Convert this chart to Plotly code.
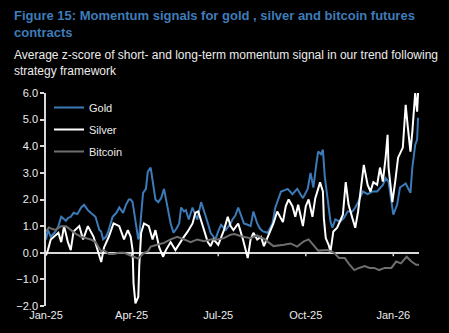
import pandas as pd
import plotly.graph_objects as go

START = pd.Timestamp("2025-01-01")

# Days since 1 Jan 2025, and z-score values
gold_days = [0, 2, 5, 10, 13, 16, 21, 23, 26, 29, 33, 37, 40, 44, 47, 52, 56, 58, 60, 63, 65, 70, 74, 77, 81, 84, 87, 89, 91, 94, 97, 98, 100, 102, 105, 107, 110, 112, 115, 118, 121, 124, 128, 131, 134, 137, 140, 142, 145, 147, 150, 154, 157, 159, 163, 165, 168, 171, 173, 176, 178, 181, 184, 189, 194, 196, 199, 202, 205, 208, 212, 215, 218, 222, 225, 228, 233, 238, 241, 244, 247, 251, 254, 259, 264, 270, 275, 278, 281, 284, 286, 289, 291, 293, 296, 299, 301, 304, 309, 313, 317, 322, 325, 328, 333, 338, 343, 348, 354, 357, 360, 364, 365, 369, 372, 378, 383, 385, 388, 390, 391]
gold_vals = [0.5, 0.86, 0.6, 0.8, 1.0, 1.35, 1.2, 1.3, 1.35, 1.5, 1.45, 1.7, 1.8, 1.6, 1.5, 1.35, 0.86, 0.8, 0.5, 0.6, 0.75, 1.35, 1.5, 1.7, 1.5, 1.8, 2.0, 2.0, 1.9, 1.1, 0.5, 0.6, 1.5, 2.25, 2.4, 3.05, 3.2, 2.75, 2.0, 1.9, 2.05, 2.4, 1.6, 1.1, 0.75, 0.9, 1.1, 1.7, 1.55, 1.6, 1.25, 1.7, 1.4, 1.25, 1.9, 1.7, 1.35, 1.0, 0.75, 0.6, 0.5, 0.8, 1.05, 0.86, 1.1, 1.25, 1.4, 1.7, 1.4, 1.1, 1.05, 1.0, 1.55, 1.1, 0.9, 0.8, 0.75, 1.1, 1.7, 2.0, 2.3, 2.35, 2.4, 2.2, 2.4, 2.05, 2.4, 3.0, 2.45, 3.3, 3.8, 3.7, 3.87, 2.85, 2.07, 1.17, 0.94, 1.25, 1.17, 1.3, 1.55, 1.55, 1.7, 1.9, 2.3, 2.2, 2.3, 2.3, 2.55, 2.8, 2.67, 1.8, 1.43, 1.8, 2.45, 2.6, 2.25, 3.2, 4.05, 4.25, 5.07]

silver_days = [0, 2, 5, 13, 16, 19, 23, 26, 29, 35, 39, 44, 50, 58, 61, 66, 71, 77, 82, 86, 89, 91, 92, 94, 97, 98, 100, 103, 108, 112, 115, 119, 123, 126, 131, 136, 144, 149, 154, 157, 160, 165, 170, 173, 176, 181, 186, 187, 191, 194, 197, 202, 207, 210, 212, 215, 218, 222, 226, 229, 233, 236, 239, 243, 249, 252, 255, 259, 262, 265, 270, 273, 276, 280, 283, 286, 288, 291, 292, 294, 297, 299, 302, 306, 312, 315, 318, 322, 325, 328, 333, 334, 338, 341, 344, 348, 351, 354, 357, 359, 360, 364, 367, 370, 375, 378, 380, 383, 385, 388, 390, 391]
silver_vals = [-0.1, 0.1, 0.5, 0.75, 0.4, 1.0, 0.4, 0.1, 0.8, 1.0, 0.5, 1.0, 0.6, -0.35, 0.2, 0.6, 1.1, 1.0, 0.5, 0.85, 0.6, 0.1, -1.15, -1.9, -1.65, -0.5, 0.75, 1.1, 1.0, 0.5, 0.85, 0.2, -0.15, 0.1, 0.4, 0.1, 0.55, 0.8, 1.1, 1.5, 1.55, 1.0, 0.4, 0.25, 0.5, 0.3, 0.75, 0.85, 1.35, 1.0, 0.85, 1.1, 0.5, 0.1, -0.2, 0.5, 0.75, 0.5, 0.6, 0.25, 0.6, 0.85, 1.1, 1.55, 1.15, 1.75, 2.0, 1.75, 1.35, 1.8, 1.0, 1.75, 2.0, 1.35, 2.05, 2.4, 2.65, 2.3, 1.3, 0.55, 0.3, 0.05, 0.8, 0.94, 1.43, 2.65, 1.8, 1.3, 0.94, 1.55, 2.9, 3.3, 2.55, 2.3, 2.65, 2.55, 3.2, 2.67, 3.6, 4.43, 3.2, 1.9, 2.67, 3.57, 3.95, 5.56, 4.8, 3.8, 4.55, 6.0, 5.3, 6.0]

bitcoin_days = [0, 3, 6, 10, 16, 21, 26, 31, 37, 42, 47, 52, 55, 58, 61, 66, 71, 77, 82, 86, 92, 97, 100, 103, 107, 110, 117, 124, 131, 138, 145, 152, 159, 166, 173, 180, 187, 194, 198, 205, 215, 222, 230, 239, 250, 257, 264, 271, 276, 281, 286, 296, 303, 308, 314, 319, 324, 329, 335, 340, 345, 350, 356, 363, 368, 373, 379, 384, 389, 392]
bitcoin_vals = [0.8, 0.95, 0.9, 0.86, 1.0, 1.0, 0.86, 0.72, 0.6, 0.55, 0.5, 0.4, 0.22, 0.05, 0.1, -0.05, -0.05, 0.0, 0.0, -0.07, -0.15, -0.22, -0.1, 0.0, 0.05, 0.23, 0.3, 0.37, 0.5, 0.6, 0.5, 0.4, 0.5, 0.43, 0.5, 0.5, 0.55, 0.68, 0.7, 0.62, 0.55, 0.65, 0.5, 0.25, 0.3, 0.35, 0.23, 0.43, 0.5, 0.3, 0.08, 0.1, 0.0, -0.2, -0.2, -0.45, -0.65, -0.57, -0.5, -0.57, -0.57, -0.65, -0.57, -0.57, -0.33, -0.4, -0.15, -0.33, -0.45, -0.45]

tick_dates = ["2025-01-01", "2025-04-01", "2025-07-01", "2025-10-01", "2026-01-01"]
x_end_day = 392

TITLE = "Figure 15: Momentum signals for gold , silver and bitcoin futures<br>contracts"
SUBTITLE = "Average z-score of short- and long-term momentum signal in our trend following<br>strategy framework"


def to_dates(days):
    return START + pd.to_timedelta(days, unit="D")


AXIS_COL = "#D9D9D9"
TEXT_COL = "#ECECEC"
FONT = "Liberation Sans, Arial, sans-serif"
PLOT_W, PLOT_H = 373, 213

fig = go.Figure()
fig.add_trace(go.Scatter(x=to_dates(gold_days), y=gold_vals, mode="lines", name="Gold",
                         line=dict(color="#3D7AB8", width=2), legendgroup="g"))
fig.add_trace(go.Scatter(x=to_dates(silver_days), y=silver_vals, mode="lines", name="Silver",
                         line=dict(color="#FFFFFF", width=2), legendgroup="s"))
fig.add_trace(go.Scatter(x=to_dates(bitcoin_days), y=bitcoin_vals, mode="lines", name="Bitcoin",
                         line=dict(color="#6E6E6E", width=2), legendgroup="b"))

# small tick marks hanging below the zero line
for d in tick_dates[1:]:
    fig.add_shape(type="line", xref="x", yref="y", x0=d, x1=d, y0=0, y1=-0.13,
                  line=dict(color=AXIS_COL, width=1.5), layer="above")

fig.update_layout(
    width=449, height=333,
    paper_bgcolor="black", plot_bgcolor="black",
    margin=dict(l=46, r=30, t=93, b=27),
    font=dict(family=FONT, size=11, color=TEXT_COL),
    showlegend=True,
    legend=dict(x=3/PLOT_W, y=1.0, xanchor="left", yanchor="top", bgcolor="rgba(0,0,0,0)",
                font=dict(family=FONT, size=11, color=TEXT_COL), itemwidth=30,
                tracegroupgap=3),
    xaxis=dict(
        range=[START, START + pd.Timedelta(days=x_end_day)],
        tickvals=tick_dates, tickformat="%b-%y",
        showgrid=False, showline=False, zeroline=False, ticks="",
        ticklabelstandoff=1, automargin=False,
        tickfont=dict(family=FONT, size=11, color=TEXT_COL),
    ),
    yaxis=dict(
        range=[-2, 6], dtick=1, tickformat=".1f",
        showgrid=False, showline=True, linecolor=AXIS_COL, linewidth=1.5,
        ticks="outside", ticklen=4, tickcolor=AXIS_COL, tickwidth=1.5,
        zeroline=True, zerolinecolor=AXIS_COL, zerolinewidth=2, automargin=False,
        tickfont=dict(family=FONT, size=11, color=TEXT_COL),
    ),
    annotations=[
        dict(text=TITLE, xref="paper", yref="paper", x=-34/PLOT_W, y=1 + (93 - 6) / PLOT_H,
             xanchor="left", yanchor="top", align="left", showarrow=False,
             font=dict(family=FONT, size=13, color="#3E7CBA", weight="bold")),
        dict(text=SUBTITLE, xref="paper", yref="paper", x=-34/PLOT_W, y=1 + (93 - 46) / PLOT_H,
             xanchor="left", yanchor="top", align="left", showarrow=False,
             font=dict(family=FONT, size=12, color=TEXT_COL)),
    ],
)

fig.write_html("out.html")
